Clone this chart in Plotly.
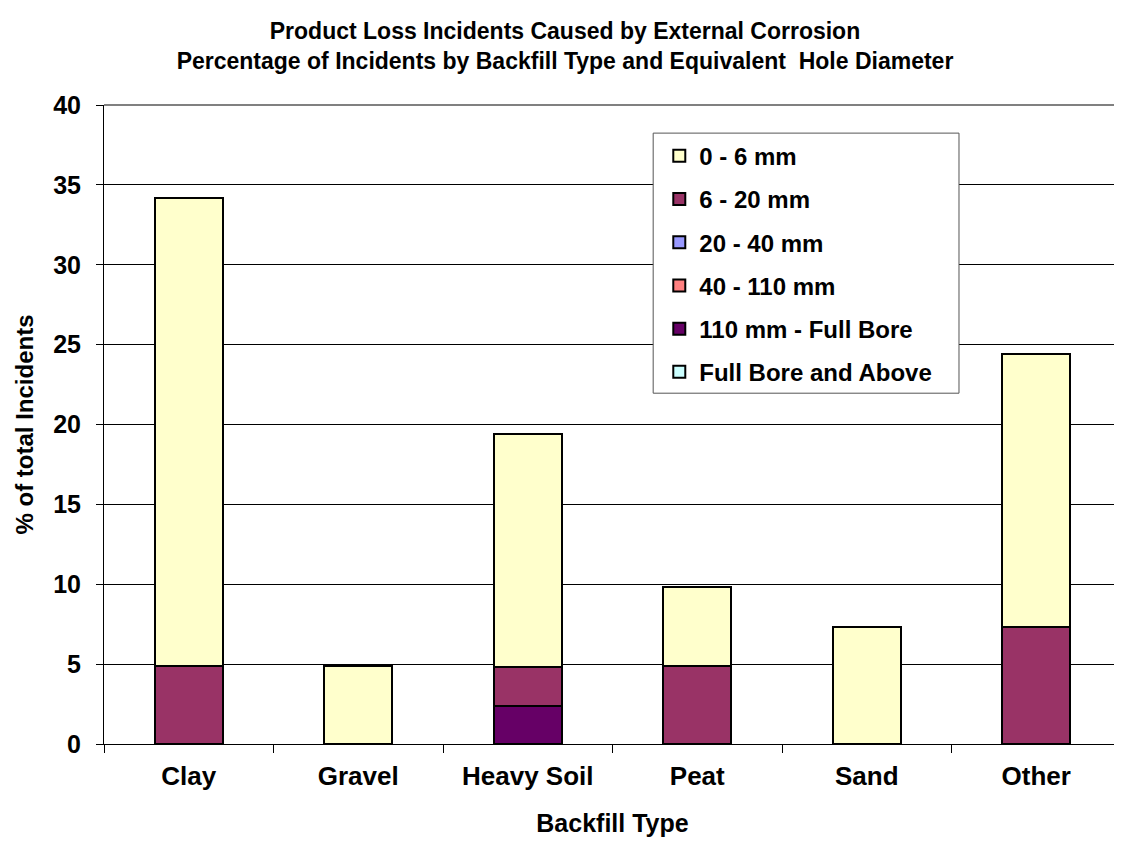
import plotly.graph_objects as go

# backfill types on the x axis
backfill = ["Clay", "Gravel", "Heavy Soil", "Peat", "Sand", "Other"]

# % of total incidents per hole diameter band
hole_0_6 = [29.3, 4.9, 14.6, 4.9, 7.3, 17.1]
hole_6_20 = [4.9, 0, 2.4, 4.9, 0, 7.3]
hole_20_40 = [0, 0, 0, 0, 0, 0]
hole_40_110 = [0, 0, 0, 0, 0, 0]
hole_110_fb = [0, 0, 2.4, 0, 0, 0]
hole_fb_above = [0, 0, 0, 0, 0, 0]

# bottom of the stack first
series = [
    ("Full Bore and Above", hole_fb_above, "#CCFFFF"),
    ("110 mm - Full Bore", hole_110_fb, "#660066"),
    ("40 - 110 mm", hole_40_110, "#FF8080"),
    ("20 - 40 mm", hole_20_40, "#9999FF"),
    ("6 - 20 mm", hole_6_20, "#993366"),
    ("0 - 6 mm", hole_0_6, "#FFFFCC"),
]

FONT = "Liberation Sans"

fig = go.Figure()
for i, (name, vals, col) in enumerate(series):
    fig.add_trace(go.Bar(
        x=backfill, y=vals, name="<b>" + name + "</b>",
        legendgroup=str(i), legendrank=len(series) - i,
        marker=dict(color=col, line=dict(color="black", width=2)),
    ))

# page has an 8px body margin, so the figure is 1114x833
fig.update_layout(
    barmode="stack",
    bargap=0.6,
    width=1114, height=833,
    margin=dict(l=96, r=1, t=97, b=97),
    plot_bgcolor="white", paper_bgcolor="white",
    font=dict(family=FONT, color="black", size=24),
    title=dict(
        text="<b>Product Loss Incidents Caused by External Corrosion<br>"
             "Percentage of Incidents by Backfill Type and Equivalent&nbsp; Hole Diameter</b>",
        x=0.5, xanchor="center", y=0.963, yanchor="top",
        font=dict(family=FONT, size=23, color="black"),
    ),
    legend=dict(
        x=0.546, y=0.955, xanchor="left", yanchor="top",
        traceorder="grouped", tracegroupgap=9,
        bgcolor="rgba(0,0,0,0)", borderwidth=0,
        font=dict(family=FONT, size=24, color="black"),
    ),
    showlegend=True,
)

fig.update_xaxes(
    showline=True, linecolor="black", linewidth=1,
    ticks="outside", ticklen=8, tickcolor="black",
    tickson="boundaries",
    tickfont=dict(family=FONT, size=26),
    tickprefix="<b>", ticksuffix="</b>",
    ticklabelstandoff=9,
    title=dict(text="<b>Backfill Type</b>", font=dict(family=FONT, size=25), standoff=24),
    automargin=False,
)
fig.update_yaxes(
    range=[0, 40], dtick=5,
    showline=True, linecolor="black", linewidth=1,
    ticks="outside", ticklen=7, tickcolor="black",
    showgrid=True, gridcolor="#000000", gridwidth=1,
    tickfont=dict(family=FONT, size=25),
    tickprefix="<b>", ticksuffix="</b>",
    ticklabelstandoff=10,
    title=dict(text="<b>% of total Incidents</b>", font=dict(family=FONT, size=24), standoff=12),
    zeroline=False,
    automargin=False,
)

# grey frame on top and right of plot area
fig.add_shape(type="line", xref="paper", yref="paper", x0=0, x1=1, y0=1, y1=1,
              line=dict(color="#808080", width=2), layer="below")
fig.add_shape(type="line", xref="paper", yref="paper", x0=1, x1=1, y0=0, y1=1,
              line=dict(color="#808080", width=2), layer="below")
# legend box
fig.add_shape(type="rect", xref="paper", yref="paper", x0=0.540, x1=0.8407, y0=0.549, y1=0.956,
              fillcolor="white", line=dict(color="#555555", width=1), layer="above")

fig.write_html("out.html")
